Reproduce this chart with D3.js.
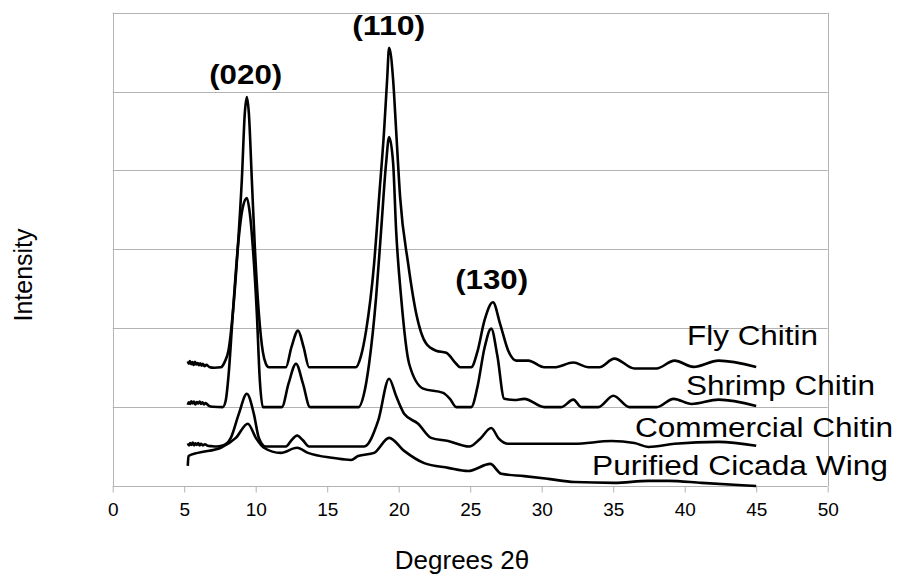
<!DOCTYPE html>
<html>
<head>
<meta charset="utf-8">
<script src="https://cdn.jsdelivr.net/npm/d3@7"></script>
<style>
  body { margin: 0; background: #fff; }
  text { font-family: "Liberation Sans", Arial, sans-serif; fill: #000; }
</style>
</head>
<body>
<svg id="chart" width="899" height="575"></svg>
<script>
// x ticks (degrees 2 theta) and y grid steps (arbitrary intensity units)
var xTicks = [0, 5, 10, 15, 20, 25, 30, 35, 40, 45, 50];
var yGrid = [0, 1000, 2000, 3000, 4000, 5000, 6000];

// diffraction traces, [degrees, intensity] (offset stacked)
var flyChitin = [
  [5.25,1580],[5.32,1550],[5.4,1585],[5.5,1545],[5.57,1570],[5.66,1535],[5.75,1575],[5.83,1540],
  [5.95,1560],[6.02,1530],[6.12,1555],[6.22,1525],[6.3,1550],[6.42,1520],[6.55,1535],[6.75,1510],
  [7.1,1500],[7.56,1505],[7.85,1580],[8.1,1720],[8.4,2190],[8.75,3025],[9.03,3880],[9.24,4730],
  [9.38,4930],[9.52,4730],[9.73,3880],[9.94,3025],[10.22,2190],[10.5,1700],[10.71,1550],[10.92,1505],
  [12.11,1505],[12.5,1760],[12.96,1970],[13.35,1760],[13.73,1505],[17.0,1505],[17.35,1640],[17.72,1970],
  [18.28,2820],[18.63,3660],[18.98,4510],[19.19,5150],[19.33,5555],[19.61,5150],[19.82,4510],[20.1,3660],
  [20.66,2820],[21.22,2190],[21.92,1805],[22.62,1715],[23.32,1690],[24.02,1550],[24.3,1505],[25.07,1505],
  [25.5,1700],[26.0,2100],[26.59,2330],[27.1,2050],[27.66,1715],[28.22,1590],[29.06,1590],[30.18,1505],
  [30.88,1505],[32.21,1565],[33.26,1505],[34.03,1505],[35.08,1615],[36.48,1490],[38.03,1490],[39.29,1590],
  [40.62,1510],[42.37,1590],[45.0,1510]
];
var shrimpChitin = [
  [5.25,1030],[5.32,1060],[5.42,1040],[5.5,1075],[5.6,1045],[5.68,1070],[5.78,1035],[5.88,1065],
  [5.97,1045],[6.08,1070],[6.18,1040],[6.28,1060],[6.38,1035],[6.5,1050],[6.7,1020],[7.0,1005],
  [7.7,1000],[7.9,1080],[8.1,1400],[8.4,2185],[8.75,3025],[9.1,3535],[9.38,3650],[9.59,3455],
  [9.8,3025],[10.08,2185],[10.29,1335],[10.5,1000],[11.83,1000],[12.3,1300],[12.82,1550],[13.3,1300],
  [13.8,1000],[17.2,1000],[17.55,1150],[17.93,1550],[18.42,2390],[18.77,3240],[19.12,4095],[19.33,4425],
  [19.61,4095],[19.82,3240],[20.17,2390],[20.73,1550],[21.71,1235],[23.11,1180],[23.6,1100],[24.02,1000],
  [25.07,1000],[25.5,1250],[26.0,1750],[26.47,1995],[26.9,1650],[27.38,1105],[28.1,1090],[28.78,1105],
  [30.18,1000],[31.37,1000],[32.21,1095],[32.77,1000],[33.96,1000],[35.01,1145],[36.13,1000],[38.03,1000],
  [39.22,1105],[40.48,1040],[42.37,1095],[45.0,1015]
];
var commercialChitin = [
  [5.25,540],[5.33,515],[5.42,545],[5.5,520],[5.6,550],[5.7,515],[5.78,540],[5.88,520],
  [5.98,545],[6.08,515],[6.18,535],[6.3,515],[6.45,530],[6.65,510],[6.9,505],[7.3,500],
  [7.8,520],[8.26,610],[8.82,915],[9.38,1170],[9.87,915],[10.22,610],[10.71,500],[12.11,500],
  [12.5,580],[12.89,640],[13.3,580],[13.73,500],[17.58,500],[18.56,825],[19.33,1360],[19.8,1150],
  [20.17,990],[20.38,915],[21.36,790],[22.27,610],[23.46,570],[24.93,500],[25.7,600],[26.47,735],
  [27.0,600],[27.66,535],[30.46,535],[32.28,535],[34.87,570],[36.48,545],[37.46,495],[39.29,535],
  [42.37,560],[45.0,510]
];
var cicadaWing = [
  [5.25,255],[5.3,380],[5.95,420],[7.56,485],[8.61,610],[9.45,790],[10.01,610],[10.57,485],
  [11.76,420],[12.89,485],[13.66,420],[15.48,355],[16.67,330],[17.16,380],[18.28,420],[19.33,610],
  [20.38,445],[21.78,290],[23.46,230],[24.86,190],[26.4,280],[27.17,155],[28.78,125],[30.46,90],
  [32.28,50],[35.08,40],[37.46,65],[38.87,65],[41.18,40],[45.0,0]
];

var seriesNames = ['Fly Chitin', 'Shrimp Chitin', 'Commercial Chitin', 'Purified Cicada Wing'];
var peakNames = ['(020)', '(110)', '(130)'];
var peakAngles = [9.3, 19.3, 26.5];

var svg = d3.select('#chart');
var margin = { left: 112.7, right: 71.3, top: 12.7, bottom: 89 };
var width = 899 - margin.left - margin.right,
    height = 575 - margin.top - margin.bottom;
var GRID = '#b3b3b3';

var x = d3.scaleLinear().domain([0, 50]).range([margin.left, margin.left + width]);
var y = d3.scaleLinear().domain([0, 6000]).range([margin.top + height, margin.top]);

// grid
svg.append('g').selectAll('line')
  .data(yGrid).enter().append('line')
  .attr('x1', x(0)).attr('x2', x(50))
  .attr('y1', function(d) { return Math.round(y(d)) + 0.5; })
  .attr('y2', function(d) { return Math.round(y(d)) + 0.5; })
  .style('stroke', GRID).style('stroke-width', 1);
svg.append('g').selectAll('line')
  .data([0, 50]).enter().append('line')
  .attr('x1', function(d) { return Math.round(x(d)) + 0.5; })
  .attr('x2', function(d) { return Math.round(x(d)) + 0.5; })
  .attr('y1', y(6000)).attr('y2', y(0))
  .style('stroke', GRID).style('stroke-width', 1);

// x axis
var xAxis = d3.axisBottom(x).tickValues(xTicks).tickSize(6).tickPadding(6);
var gx = svg.append('g')
  .attr('transform', 'translate(0,' + (Math.round(y(0)) + 0.5) + ')')
  .call(xAxis);
gx.select('.domain').remove();
gx.selectAll('.tick line').style('stroke', GRID);
gx.selectAll('.tick text').style('font-size', '19px').attr('dy', '0.9em');

// traces
var line = d3.line()
  .x(function(d) { return x(d[0]); })
  .y(function(d) { return y(d[1]); })
  .curve(d3.curveMonotoneX);

var traces = [flyChitin, shrimpChitin, commercialChitin, cicadaWing];
svg.append('g').selectAll('path')
  .data(traces).enter().append('path')
  .attr('d', line)
  .style('fill', 'none').style('stroke', '#000')
  .style('stroke-width', 2.6).style('stroke-linejoin', 'round');

// peak labels, sat above the top trace
var peakLabelWidth = 73;
svg.append('g').selectAll('text')
  .data(peakNames).enter().append('text')
  .attr('x', function(d, i) { return x(peakAngles[i]) - peakLabelWidth / 2; })
  .attr('y', function(d, i) {
    var top = d3.max(flyChitin.filter(function(p) { return Math.abs(p[0] - peakAngles[i]) < 0.5; }),
      function(p) { return p[1]; });
    return y(top) - 13;
  })
  .attr('textLength', peakLabelWidth).attr('lengthAdjust', 'spacingAndGlyphs')
  .style('font-size', '27px').style('font-weight', 'bold')
  .text(function(d) { return d; });

// series labels
var seriesLabelPos = [[687, 345, 131], [686, 395, 189], [635, 437, 258], [592, 475, 296]];
svg.append('g').selectAll('text')
  .data(seriesNames).enter().append('text')
  .attr('x', function(d, i) { return seriesLabelPos[i][0]; })
  .attr('y', function(d, i) { return seriesLabelPos[i][1]; })
  .attr('textLength', function(d, i) { return seriesLabelPos[i][2]; })
  .attr('lengthAdjust', 'spacingAndGlyphs')
  .style('font-size', '27px')
  .text(function(d) { return d; });

// axis titles
svg.append('text')
  .attr('x', 462).attr('y', 569)
  .attr('text-anchor', 'middle')
  .style('font-size', '26px')
  .text('Degrees 2θ');
svg.append('text')
  .attr('transform', 'translate(32,275) rotate(-90)')
  .attr('text-anchor', 'middle')
  .style('font-size', '25px')
  .text('Intensity');
</script>
</body>
</html>
